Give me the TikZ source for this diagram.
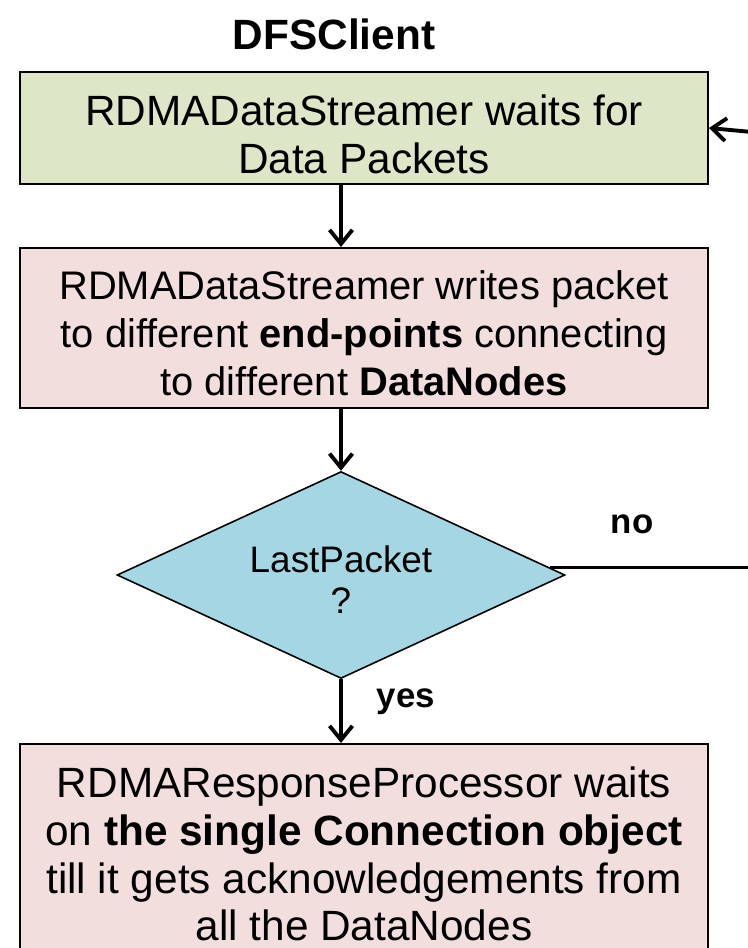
\documentclass[tikz,border=0pt]{standalone}
\usepackage{fontspec}
\setmainfont{Liberation Sans}
\usetikzlibrary{arrows.meta,shapes.geometric}

\definecolor{boxgreen}{RGB}{221,231,200}
\definecolor{boxpink}{RGB}{242,222,221}
\definecolor{diamondblue}{RGB}{165,214,227}

\tikzset{
  stepbox/.style={draw=black, line width=1.2pt, inner sep=0pt, minimum width=13.76cm},
  decision/.style={diamond, draw=black, fill=diamondblue, line width=0.9pt, inner sep=0pt,
                   minimum width=8.96cm, minimum height=4.14cm},
  boxtext/.style={align=center, inner sep=0pt, font=\fontsize{24.1pt}{27.2pt}\selectfont},
  dectext/.style={align=center, inner sep=0pt, font=\fontsize{21pt}{23.2pt}\selectfont},
  flowlabel/.style={inner sep=0pt, font=\fontsize{19.8pt}{22pt}\selectfont\bfseries},
  flow/.style={line width=2.2pt, -{Straight Barb[length=8pt,width=13pt]}},
  plainflow/.style={line width=1.9pt},
}

\begin{document}
\begin{tikzpicture}[x=0.02cm, y=-0.02cm]
  \useasboundingbox (0,0) rectangle (748,948);

  % heading
  \node[font=\fontsize{24.1pt}{27pt}\selectfont\bfseries, inner sep=0pt] (title) at (334,34) {DFSClient};

  % boxes
  \node[stepbox, fill=boxgreen, minimum height=2.24cm] (b1) at (364,128) {};
  \node[boxtext] (t1) at (364,134) {RDMADataStreamer waits for\\Data Packets};

  \node[stepbox, fill=boxpink, minimum height=3.2cm] (b2) at (364,328) {};
  \node[boxtext, font=\fontsize{22.7pt}{27.2pt}\selectfont] (t2) at (364,333)
    {RDMADataStreamer writes packet\\to different \textbf{end-points} connecting\\to different \textbf{DataNodes}};

  \node[decision] (d) at (341,575) {};
  \node[dectext] (dt) at (341,580) {LastPacket\\?};

  \node[stepbox, fill=boxpink, minimum height=5.12cm] (b3) at (364,872) {};
  \node[boxtext] (t3) at (364,854) {RDMAResponseProcessor waits\\on \textbf{the single Connection object}\\till it gets acknowledgements from\\all the DataNodes};

  % connectors (straight down the centre line of the decision)
  \draw[flow] (b1.south -| d.north) -- (b2.north -| d.north);
  \draw[flow] (b2.south -| d.north) -- (d.north);
  \draw[flow] (d.south) -- (b3.north -| d.south);

  \coordinate (noend) at (752,567);
  \draw[plainflow] (d.2) -- (d.2 -| noend);
  \node[flowlabel] (no) at (632,524) {no};
  \node[flowlabel] (yes) at (406,702) {yes};

  \coordinate (back) at (752,132);
  \draw[flow] (back) -- (b1.east);
\end{tikzpicture}
\end{document}
